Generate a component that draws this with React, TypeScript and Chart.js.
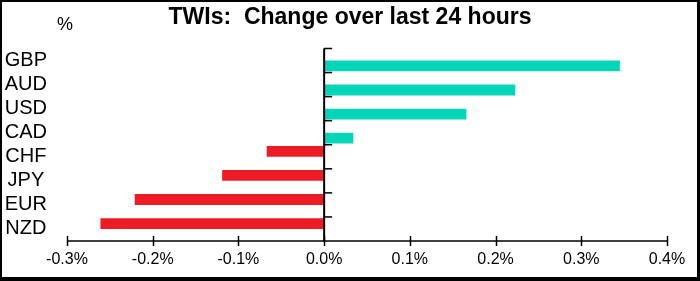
import React, { useEffect, useRef } from "react";
import { Chart, registerables } from "chart.js";

Chart.register(...registerables);

const categories = ["GBP", "AUD", "USD", "CAD", "CHF", "JPY", "EUR", "NZD"];
const changes = [0.345, 0.223, 0.166, 0.034, -0.067, -0.119, -0.221, -0.261];
const negativeValues = changes.map((v) => (v < 0 ? v : null));
const positiveValues = changes.map((v) => (v >= 0 ? v : null));
const xMin = -0.3;
const xMax = 0.4;
const xStep = 0.1;
const titleText = "TWIs:  Change over last 24 hours";
const unitLabel = "%";

const FONT = "'Liberation Sans', Arial, sans-serif";
const GREEN = "#03D5B9";
const RED = "#ED1C24";

const decorPlugin = {
  id: "decor",
  afterDatasetsDraw(chart: any) {
    const { ctx, chartArea, scales } = chart;
    const xs = scales.x;
    const ys = scales.y;
    ctx.save();
    ctx.strokeStyle = "#000";
    ctx.fillStyle = "#000";
    // x axis line
    ctx.lineWidth = 1.5;
    ctx.beginPath();
    ctx.moveTo(chartArea.left, chartArea.bottom);
    ctx.lineTo(chartArea.right, chartArea.bottom);
    ctx.stroke();
    // x ticks crossing
    xs.ticks.forEach((t: any) => {
      const px = Math.round(xs.getPixelForValue(t.value)) + 0.5;
      ctx.beginPath();
      ctx.moveTo(px, chartArea.bottom - 5);
      ctx.lineTo(px, chartArea.bottom + 5);
      ctx.stroke();
    });
    // y axis line at zero
    const x0 = xs.getPixelForValue(0);
    ctx.lineWidth = 2;
    ctx.beginPath();
    ctx.moveTo(x0, chartArea.top);
    ctx.lineTo(x0, chartArea.bottom);
    ctx.stroke();
    // y ticks at category boundaries
    ctx.lineWidth = 1.5;
    const n = categories.length;
    for (let i = 0; i < n; i++) {
      const y = ys.getPixelForValue(i) - (chartArea.bottom - chartArea.top) / n / 2;
      ctx.beginPath();
      ctx.moveTo(x0, y);
      ctx.lineTo(x0 + 8, y);
      ctx.stroke();
    }
    // title
    ctx.font = `bold 23px ${FONT}`;
    ctx.textAlign = "center";
    ctx.textBaseline = "middle";
    ctx.fillText(titleText, 350, 18);
    // unit label
    ctx.font = `18px ${FONT}`;
    ctx.fillText(unitLabel, 65, 25);
    // frame
    ctx.fillRect(0, 0, 700, 2);
    ctx.fillRect(0, 0, 2, 281);
    ctx.fillRect(697, 0, 3, 281);
    ctx.fillRect(0, 277, 700, 4);
    ctx.restore();
  },
};

export default function App() {
  const ref = useRef<HTMLCanvasElement | null>(null);
  useEffect(() => {
    document.body.style.margin = "0";
    const canvas = ref.current;
    if (!canvas) return;
    const chart = new Chart(canvas, {
      type: "bar",
      data: {
        labels: categories,
        datasets: [
          {
            data: negativeValues,
            backgroundColor: RED,
            borderWidth: 0,
            categoryPercentage: 0.9,
            barPercentage: 1.0,
          },
          {
            data: positiveValues,
            backgroundColor: GREEN,
            borderWidth: 0,
            categoryPercentage: 0.9,
            barPercentage: 1.0,
          },
        ],
      },
      options: {
        indexAxis: "y",
        animation: false,
        responsive: false,
        devicePixelRatio: 1,
        layout: { padding: { left: 0, right: 33, top: 48.5, bottom: 0 } },
        plugins: {
          legend: { display: false },
          tooltip: { enabled: false },
          title: { display: false },
        },
        scales: {
          x: {
            type: "linear",
            min: xMin,
            max: xMax,
            grid: { display: false, drawTicks: false },
            border: { display: false },
            ticks: {
              stepSize: xStep,
              padding: 9,
              color: "#000",
              font: { family: FONT, size: 16 },
              callback: (v: any) => `${Number(v).toFixed(1)}%`,
            },
            afterFit: (s: any) => {
              s.height = 40;
            },
          },
          y: {
            type: "category",
            grid: { display: false, drawTicks: false },
            border: { display: false },
            ticks: {
              autoSkip: false,
              crossAlign: "center",
              padding: 20,
              color: "#000",
              font: { family: FONT, size: 20 },
            },
            afterFit: (s: any) => {
              s.width = 67;
            },
          },
        },
      },
      plugins: [decorPlugin],
    });
    return () => chart.destroy();
  }, []);
  return (
    <canvas
      ref={ref}
      width={700}
      height={281}
      style={{ display: "block", width: 700, height: 281, background: "#fff" }}
    />
  );
}
